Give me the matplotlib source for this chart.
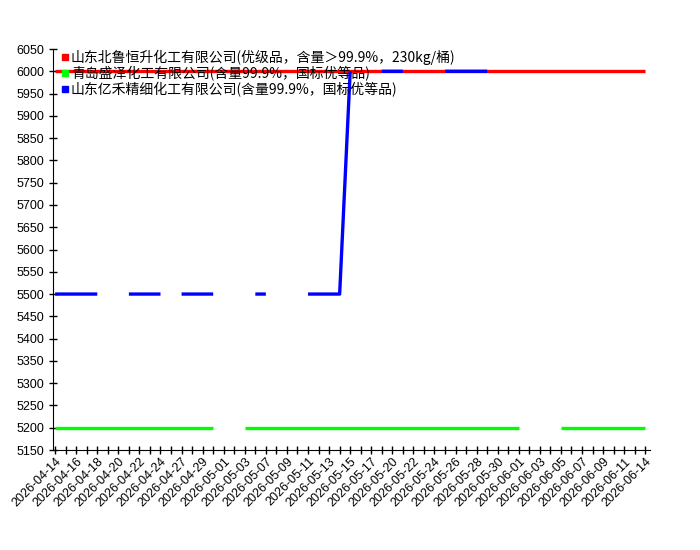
import matplotlib
matplotlib.use("Agg")
import matplotlib.pyplot as plt
import numpy as np
from matplotlib.lines import Line2D

plt.rcParams['font.family'] = ['Liberation Sans', 'Noto Sans CJK SC', 'DejaVu Sans']

dates = [
    "2026-04-14", "2026-04-15", "2026-04-16", "2026-04-17", "2026-04-18", "2026-04-19",
    "2026-04-20", "2026-04-21", "2026-04-22", "2026-04-23", "2026-04-24", "2026-04-26",
    "2026-04-27", "2026-04-28", "2026-04-29", "2026-04-30", "2026-05-01", "2026-05-02",
    "2026-05-03", "2026-05-06", "2026-05-07", "2026-05-08", "2026-05-09", "2026-05-10",
    "2026-05-11", "2026-05-12", "2026-05-13", "2026-05-14", "2026-05-15", "2026-05-16",
    "2026-05-17", "2026-05-19", "2026-05-20", "2026-05-21", "2026-05-22", "2026-05-23",
    "2026-05-24", "2026-05-25", "2026-05-26", "2026-05-27", "2026-05-28", "2026-05-29",
    "2026-05-30", "2026-05-31", "2026-06-01", "2026-06-02", "2026-06-03", "2026-06-04",
    "2026-06-05", "2026-06-06", "2026-06-07", "2026-06-08", "2026-06-09", "2026-06-10",
    "2026-06-11", "2026-06-12", "2026-06-14",
]

names = [
    "山东北鲁恒升化工有限公司(优级品，含量＞99.9%，230kg/桶)",
    "青岛盛泽化工有限公司(含量99.9%，国标优等品)",
    "山东亿禾精细化工有限公司(含量99.9%，国标优等品)",
]
colors = ["#ff0000", "#00ff00", "#0000ff"]

nan = np.nan
# 山东北鲁恒升
s1 = [6000] * 57
# 青岛盛泽
s2 = ([5200] * 16 + [nan] * 2 + [5200] * 27 + [nan] * 3 + [5200] * 9)
# 山东亿禾
s3 = ([5500] * 5 + [nan] * 2 + [5500] * 4 + [nan] + [5500] * 4 + [nan] * 3
      + [5500] * 2 + [nan] * 3 + [5500] * 4 + [6000] + [nan] * 2 + [6000] * 3
      + [nan] * 3 + [6000] * 5 + [nan] * 15)

fig = plt.figure(figsize=(7, 5.5), dpi=100)
ax = fig.add_axes([53 / 700, 100 / 550, 597 / 700, 401 / 550])

x = np.arange(len(dates))
for vals, c in zip([s1, s2, s3], colors):
    ax.plot(x, vals, color=c, lw=2.4, solid_capstyle='butt')

ax.set_xlim(-0.2, len(dates) - 1 + 0.45)
ax.set_ylim(5150, 6050)
ax.set_yticks(np.arange(5150, 6051, 50))
ax.set_xticks(x)
ax.set_xticklabels([d if i % 2 == 0 else "" for i, d in enumerate(dates)],
                   rotation=45, ha='right', rotation_mode='anchor', fontsize=9)
ax.tick_params(axis='both', direction='inout', length=6, width=1, labelsize=9)
ax.tick_params(axis='x', pad=1)
for s in ['top', 'right']:
    ax.spines[s].set_visible(False)

handles = [Line2D([], [], ls='none', marker='s', markersize=5, color=c) for c in colors]
fig.legend(handles, names, loc='upper left', bbox_to_anchor=(54 / 700, 1 - 43 / 550),
           frameon=False, borderpad=0, handlelength=0.6, handletextpad=0.1,
           labelspacing=0.05, prop={'family': ['Noto Sans CJK SC', 'DejaVu Sans'], 'size': 10})

fig.savefig("out.png", dpi=100)
